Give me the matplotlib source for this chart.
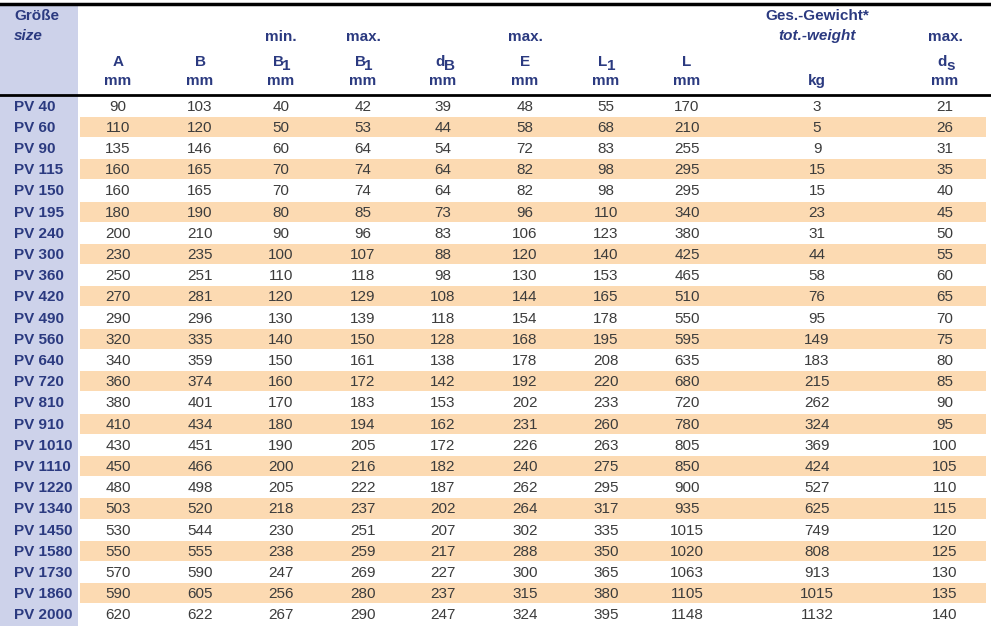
import matplotlib
matplotlib.use("Agg")
import matplotlib.pyplot as plt
from matplotlib.patches import Rectangle

sizes = ["PV 40","PV 60","PV 90","PV 115","PV 150","PV 195","PV 240","PV 300","PV 360","PV 420",
         "PV 490","PV 560","PV 640","PV 720","PV 810","PV 910","PV 1010","PV 1110","PV 1220","PV 1340",
         "PV 1450","PV 1580","PV 1730","PV 1860","PV 2000"]
A = [90,110,135,160,160,180,200,230,250,270,290,320,340,360,380,410,430,450,480,503,530,550,570,590,620]
B = [103,120,146,165,165,190,210,235,251,281,296,335,359,374,401,434,451,466,498,520,544,555,590,605,622]
B1min = [40,50,60,70,70,80,90,100,110,120,130,140,150,160,170,180,190,200,205,218,230,238,247,256,267]
B1max = [42,53,64,74,74,85,96,107,118,129,139,150,161,172,183,194,205,216,222,237,251,259,269,280,290]
dB = [39,44,54,64,64,73,83,88,98,108,118,128,138,142,153,162,172,182,187,202,207,217,227,237,247]
E = [48,58,72,82,82,96,106,120,130,144,154,168,178,192,202,231,226,240,262,264,302,288,300,315,324]
L1 = [55,68,83,98,98,110,123,140,153,165,178,195,208,220,233,260,263,275,295,317,335,350,365,380,395]
L = [170,210,255,295,295,340,380,425,465,510,550,595,635,680,720,780,805,850,900,935,1015,1020,1063,1105,1148]
kg = [3,5,9,15,15,23,31,44,58,76,95,149,183,215,262,324,369,424,527,625,749,808,913,1015,1132]
ds = [21,26,31,35,40,45,50,55,60,65,70,75,80,85,90,95,100,105,110,115,120,125,130,135,140]

columns = [A, B, B1min, B1max, dB, E, L1, L, kg, ds]
col_x = [118, 200, 281, 363, 443, 525, 606, 687, 817, 945]
headers = [("", "A", "", "mm"), ("", "B", "", "mm"), ("min.", "B", "1", "mm"), ("max.", "B", "1", "mm"),
           ("", "d", "B", "mm"), ("max.", "E", "", "mm"), ("", "L", "1", "mm"), ("", "L", "", "mm"),
           ("", "", "", "kg"), ("max.", "d", "s", "mm")]

FONT = ["Liberation Sans Narrow", "Liberation Sans", "DejaVu Sans"]
NAVY = "#2b3a80"
GRAY = "#3c3c3c"
BLUE = "#cdd2ea"
ORANGE = "#fcdab2"
FS = 11

fig = plt.figure(figsize=(9.91, 6.3), dpi=100)
ax = fig.add_axes([0, 0, 1, 1])
ax.set_xlim(0, 991)
ax.set_ylim(630, 0)
ax.axis("off")

top, hbot, rh = 4, 95, 21.2
ax.add_patch(Rectangle((0, top), 78, 626 - top, color=BLUE, lw=0))
for i, name in enumerate(sizes):
    y0 = hbot + i * rh
    if i % 2 == 1:
        ax.add_patch(Rectangle((80, y0 + 0.5), 906, rh - 1, color=ORANGE, lw=0))
    yc = y0 + rh / 2 + 1
    ax.text(14, yc, name, ha="left", va="center", fontsize=FS, fontweight="bold", color=NAVY, family=FONT)
    for cx, col in zip(col_x, columns):
        ax.text(cx, yc, str(col[i]), ha="center", va="center", fontsize=FS, color=GRAY, family=FONT)

ax.plot([0, 991], [top, top], color="black", lw=2.5)
ax.plot([0, 991], [hbot, hbot], color="black", lw=2)

ax.text(14, 16, "Größe", ha="left", va="center", fontsize=FS, fontweight="bold", color=NAVY, family=FONT)
ax.text(14, 36, "size", ha="left", va="center", fontsize=FS, fontweight="bold", style="italic", color=NAVY, family=FONT)
ax.text(817, 16, "Ges.-Gewicht*", ha="center", va="center", fontsize=FS, fontweight="bold", color=NAVY, family=FONT)
ax.text(817, 36, "tot.-weight", ha="center", va="center", fontsize=FS, fontweight="bold", style="italic", color=NAVY, family=FONT)

for cx, (q, m, s, u) in zip(col_x, headers):
    kw = dict(fontweight="bold", color=NAVY, family=FONT)
    if q:
        ax.text(cx, 37, q, ha="center", va="center", fontsize=FS, **kw)
    if m:
        dx = -3 if s else 0
        ax.text(cx + dx, 62, m, ha="center", va="center", fontsize=FS, **kw)
        if s:
            ax.text(cx + dx + 4, 66, s, ha="left", va="center", fontsize=FS, **kw)
    ax.text(cx, 81, u, ha="center", va="center", fontsize=FS, **kw)

fig.savefig("out.png", dpi=100)
